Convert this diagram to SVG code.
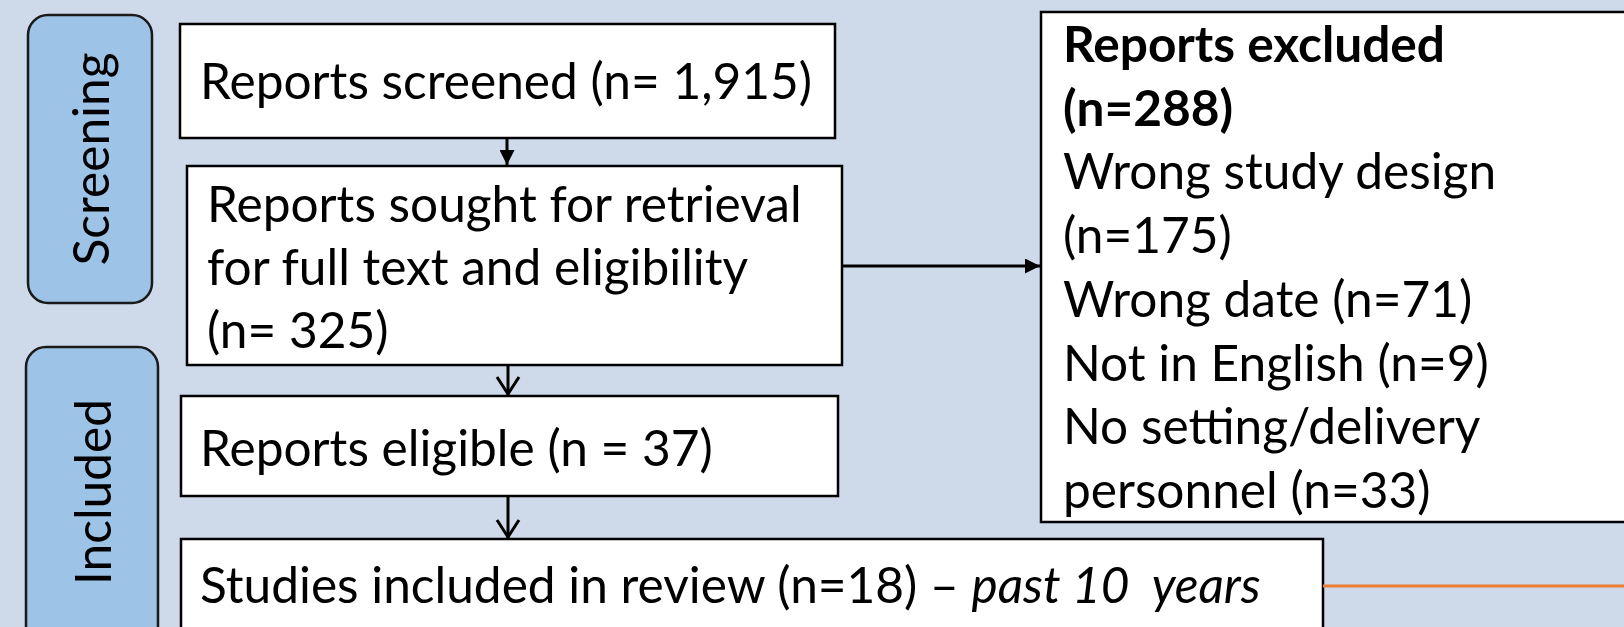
<svg xmlns="http://www.w3.org/2000/svg" width="1624" height="627" viewBox="0 0 1624 627">
<defs>
<style>
.bg{fill:#CED9EA}
.pill{fill:#9DC3E6;stroke:#1a1a1a;stroke-width:2.5}
.box{fill:#ffffff;stroke:#000000;stroke-width:2.5}
.t{font-family:Lato,"Open Sans",sans-serif;font-size:49.6px;fill:#000000;white-space:pre}
.b{font-weight:bold}
.i{font-style:italic}
.conn{stroke:#000000;stroke-width:3;fill:none}
.orange{stroke:#ED7D31;stroke-width:3;fill:none}
</style>
<marker id="tri" viewBox="0 0 10 10" refX="10" refY="5" markerWidth="5" markerHeight="5" markerUnits="strokeWidth" orient="auto">
<path d="M0,0 L10,5 L0,10 Z" fill="#000000"/>
</marker>
</defs>
<rect class="bg" x="0" y="0" width="1624" height="627"/>

<g id="stage-screening">
<rect class="pill" x="28" y="15" width="124" height="288" rx="20" ry="20"/>
<text class="t" transform="translate(109,159) rotate(-90)" text-anchor="middle">Screening</text>
</g>

<g id="stage-included">
<rect class="pill" x="26" y="347" width="132" height="300" rx="20" ry="20"/>
<text class="t" transform="translate(111,492) rotate(-90)" text-anchor="middle">Included</text>
</g>

<g id="node-screened">
<rect class="box" x="180" y="24" width="655" height="114"/>
<text class="t" x="200" y="99">Reports screened (n= 1,915)</text>
</g>

<g id="node-sought">
<rect class="box" x="187" y="166" width="655" height="199"/>
<text class="t" x="207" y="222">Reports sought for retrieval</text>
<text class="t" x="207" y="285">for full text and eligibility</text>
<text class="t" x="207" y="348">(n= 325)</text>
</g>

<g id="node-eligible">
<rect class="box" x="181" y="396" width="657" height="100"/>
<text class="t" x="200" y="466">Reports eligible (n = 37)</text>
</g>

<g id="node-included">
<rect class="box" x="181" y="539" width="1142" height="110"/>
<text class="t" x="200" y="603">Studies included in review (n=18) – <tspan class="i">past 10  years</tspan></text>
</g>

<g id="node-excluded">
<rect class="box" x="1041" y="12" width="600" height="510"/>
<text class="t b" x="1063" y="62">Reports excluded</text>
<text class="t b" x="1063" y="125.7">(n=288)</text>
<text class="t" x="1063" y="189.4">Wrong study design</text>
<text class="t" x="1063" y="253">(n=175)</text>
<text class="t" x="1063" y="316.8">Wrong date (n=71)</text>
<text class="t" x="1063" y="380.5">Not in English (n=9)</text>
<text class="t" x="1063" y="444.2">No setting/delivery</text>
<text class="t" x="1063" y="508">personnel (n=33)</text>
</g>

<g id="connectors">
<line class="conn" x1="507" y1="138" x2="507" y2="165" marker-end="url(#tri)"/>
<line class="conn" x1="508" y1="365" x2="508" y2="395"/>
<polyline class="conn" points="497,377 508,394 519,377"/>
<line class="conn" x1="508" y1="496" x2="508" y2="538"/>
<polyline class="conn" points="497,520 508,537 519,520"/>
<line class="conn" x1="842" y1="266" x2="1040" y2="266" marker-end="url(#tri)"/>
<line class="orange" x1="1323" y1="586" x2="1624" y2="586"/>
</g>
</svg>
